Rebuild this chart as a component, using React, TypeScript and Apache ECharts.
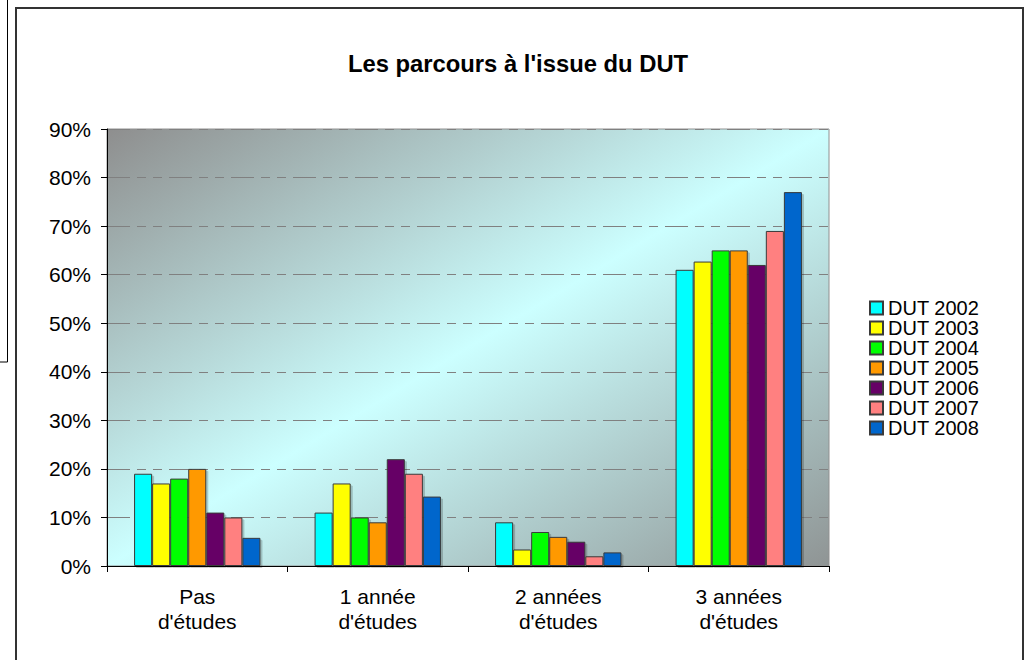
import React, { useEffect, useRef } from "react";
import * as echarts from "echarts";

const categories = ["Pas\nd'études", "1 année\nd'études", "2 années\nd'études", "3 années\nd'études"];
const seriesNames = ["DUT 2002", "DUT 2003", "DUT 2004", "DUT 2005", "DUT 2006", "DUT 2007", "DUT 2008"];
const dut2002 = [19, 11, 9, 61];
const dut2003 = [17, 17, 3.4, 62.7];
const dut2004 = [18, 10, 7, 65];
const dut2005 = [20, 9, 6, 65];
const dut2006 = [11, 22, 5, 62];
const dut2007 = [10, 19, 2, 69];
const dut2008 = [5.8, 14.3, 2.8, 77];
const seriesValues = [dut2002, dut2003, dut2004, dut2005, dut2006, dut2007, dut2008];
const colors = ["#00ffff", "#ffff00", "#00ff00", "#ff9900", "#660066", "#ff8080", "#0066cc"];

const FONT = "'Liberation Sans', Arial, sans-serif";

export default function App() {
  const ref = useRef<HTMLDivElement>(null);
  useEffect(() => {
    if (!ref.current) return;
    const chart = echarts.init(ref.current, undefined, { renderer: "svg" });
    chart.setOption({
      animation: false,
      backgroundColor: "#ffffff",
      textStyle: { fontFamily: FONT },
      graphic: [
        {
          type: "rect",
          shape: { x: 16, y: 8, width: 1007, height: 700 },
          style: { fill: "none", stroke: "#333333", lineWidth: 2 },
          silent: true,
        },
        {
          type: "polyline",
          shape: { points: [[7.5, -2], [7.5, 362], [-2, 362]] },
          style: { fill: "none", stroke: "#000000", lineWidth: 1 },
          silent: true,
        },
        {
          type: "text",
          x: 518,
          y: 63,
          style: {
            text: "Les parcours à l'issue du DUT",
            font: "bold 23.8px " + FONT,
            fill: "#000000",
            align: "center",
            verticalAlign: "middle",
          },
        },
      ],
      grid: {
        left: 107,
        top: 129,
        width: 722,
        height: 437,
        show: true,
        borderColor: "#909090",
        borderWidth: 1,
        backgroundColor: new echarts.graphic.LinearGradient(0, 0, 1, 1, [
          { offset: 0, color: "#8e8e8e" },
          { offset: 0.5, color: "#ccffff" },
          { offset: 1, color: "#8f9494" },
        ]),
      },
      legend: {
        orient: "vertical",
        left: 869,
        top: 298,
        padding: 0,
        itemWidth: 13,
        itemHeight: 13,
        itemGap: 0,
        icon: "rect",
        data: seriesNames,
        textStyle: { fontSize: 20, color: "#000000", fontFamily: FONT },
      },
      xAxis: {
        type: "category",
        data: categories,
        axisLine: { lineStyle: { color: "#000000", width: 1 } },
        axisTick: { show: true, length: 6, lineStyle: { color: "#000000" } },
        axisLabel: {
          fontSize: 21,
          lineHeight: 25,
          color: "#000000",
          margin: 18,
          interval: 0,
          fontFamily: FONT,
        },
        splitLine: { show: false },
      },
      yAxis: {
        type: "value",
        min: 0,
        max: 90,
        interval: 10,
        axisLine: { show: true, lineStyle: { color: "#000000", width: 1 } },
        axisTick: { show: true, length: 6, lineStyle: { color: "#000000" } },
        axisLabel: {
          formatter: "{value}%",
          fontSize: 21,
          color: "#000000",
          margin: 16,
          fontFamily: FONT,
        },
        splitLine: {
          show: true,
          lineStyle: { color: "#808080", width: 1, type: [23, 7, 9, 7, 9, 7] },
        },
      },
      series: seriesNames.map((name, i) => ({
        name,
        type: "bar",
        data: seriesValues[i],
        barGap: "0%",
        barCategoryGap: "30%",
        itemStyle: {
          color: colors[i],
          borderColor: "#3a3a3a",
          borderWidth: 1,
          shadowColor: "rgba(0,0,0,0.2)",
          shadowOffsetX: 2,
          shadowOffsetY: 2,
          shadowBlur: 1,
        },
      })),
    });
    return () => chart.dispose();
  }, []);
  return (
    <div
      ref={ref}
      style={{ position: "fixed", left: 0, top: 0, width: 1030, height: 660 }}
    />
  );
}
